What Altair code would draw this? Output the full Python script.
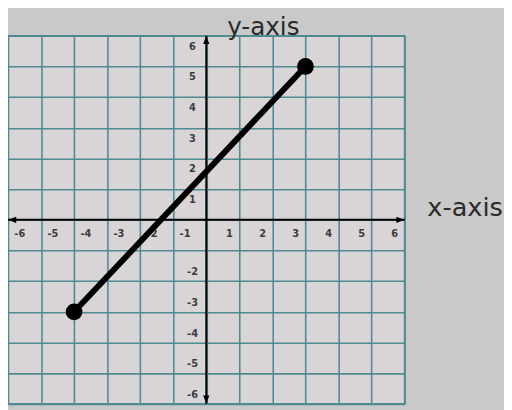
import altair as alt
import pandas as pd

# data
seg_x = [-4, 3]
seg_y = [-3, 5]
grid_vals = [-6, -5, -4, -3, -2, -1, 0, 1, 2, 3, 4, 5, 6]
x_neg_ticks = [-6, -5, -4, -3, -2, -1]
x_pos_ticks = [1, 2, 3, 4, 5, 6]
y_pos_ticks = [6, 5, 4, 3, 2, 1]
y_neg_ticks = [-2, -3, -4, -5, -6]
lo, hi = -6, 6

GRID = "#4f8a92"
FONT = "DejaVu Sans"

xs = alt.Scale(domain=[lo, hi], nice=False, zero=False)
ys = alt.Scale(domain=[lo, hi], nice=False, zero=False)

xaxis = alt.Axis(values=grid_vals, grid=True, labels=False, ticks=False, domain=False,
                 gridColor=GRID, gridWidth=1.6, gridOpacity=1,
                 title="x-axis", titleX=464, titleY=-191, titleAlign="center",
                 titleBaseline="alphabetic", titleFont=FONT, titleFontSize=26,
                 titleFontWeight="normal", titleColor="#2b2b2b")
yaxis = alt.Axis(values=grid_vals, grid=True, labels=False, ticks=False, domain=False,
                 gridColor=GRID, gridWidth=1.6, gridOpacity=1,
                 title="y-axis", titleX=259, titleY=-1, titleAngle=0, titleAlign="center",
                 titleBaseline="alphabetic", titleFont=FONT, titleFontSize=25,
                 titleFontWeight="normal", titleColor="#2b2b2b")

X = alt.X("x:Q", scale=xs, axis=xaxis)
Y = alt.Y("y:Q", scale=ys, axis=yaxis)

# central axes
axes_df = pd.DataFrame({"x": [lo, 0], "x2": [hi, 0], "y": [0, lo], "y2": [0, hi]})
axes = alt.Chart(axes_df).mark_rule(color="black", strokeWidth=2).encode(
    x=X, x2="x2:Q", y=Y, y2="y2:Q")

arrow_df = pd.DataFrame({"x": [hi, lo, 0, 0], "y": [0, 0, hi, lo], "ang": [0, 180, 270, 90]})
arrows = alt.Chart(arrow_df).mark_point(
    shape="M0,0 L-2,-0.75 L-2,0.75 Z", filled=True, color="black", opacity=1, size=70,
    strokeWidth=0).encode(x=X, y=Y, angle=alt.Angle("ang:Q", scale=None))

txt = dict(font=FONT, fontSize=10, fontWeight="bold", color="#3c3c3c",
           align="center", baseline="middle")
xneg = alt.Chart(pd.DataFrame({"x": x_neg_ticks, "y": [0] * len(x_neg_ticks),
                               "t": [str(v) for v in x_neg_ticks]})).mark_text(
    dx=12, dy=14, **txt).encode(x=X, y=Y, text="t:N")
xpos = alt.Chart(pd.DataFrame({"x": x_pos_ticks, "y": [0] * len(x_pos_ticks),
                               "t": [str(v) for v in x_pos_ticks]})).mark_text(
    dx=-10, dy=14, **txt).encode(x=X, y=Y, text="t:N")
ypos = alt.Chart(pd.DataFrame({"x": [0] * len(y_pos_ticks), "y": y_pos_ticks,
                               "t": [str(v) for v in y_pos_ticks]})).mark_text(
    dx=-14, dy=11, **txt).encode(x=X, y=Y, text="t:N")
yneg = alt.Chart(pd.DataFrame({"x": [0] * len(y_neg_ticks), "y": y_neg_ticks,
                               "t": [str(v) for v in y_neg_ticks]})).mark_text(
    dx=-14, dy=-9, **txt).encode(x=X, y=Y, text="t:N")

seg_df = pd.DataFrame({"x": seg_x, "y": seg_y})
seg = alt.Chart(seg_df).mark_line(color="black", strokeWidth=6).encode(x=X, y=Y)
dots = alt.Chart(seg_df).mark_point(shape="circle", filled=True, color="black",
                                    opacity=1, size=290).encode(x=X, y=Y)

chart = alt.layer(axes, arrows, xneg, xpos, ypos, yneg, seg, dots).properties(
    width=403, height=374,
    autosize=alt.AutoSizeParams(type="none"),
    padding={"left": 0, "top": 25, "right": 101, "bottom": 3},
    background="#c9c9c9",
).configure_view(fill="#d9d5d7", stroke=GRID, strokeWidth=1.6)

chart.save("out.html", embed_options={"renderer": "svg", "actions": False})
